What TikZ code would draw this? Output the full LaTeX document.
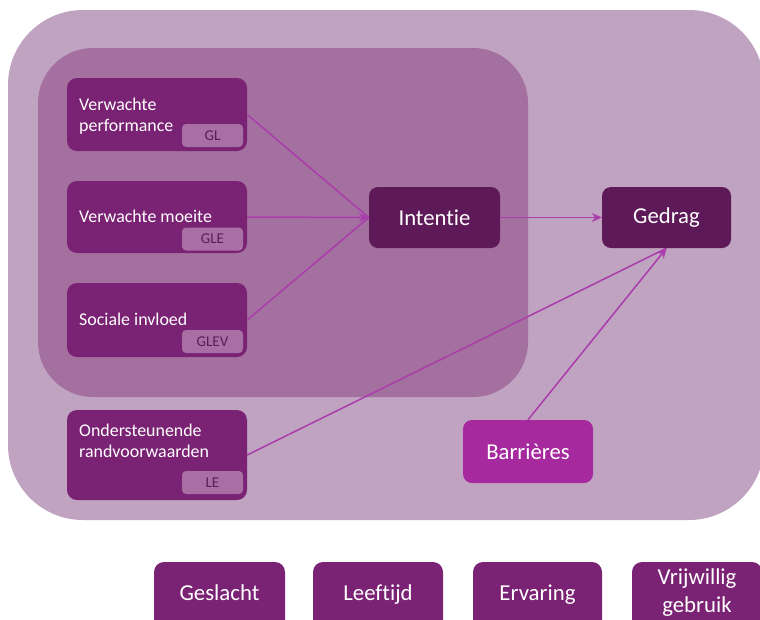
\documentclass[tikz,border=0pt]{standalone}
\usepackage{fontspec}
\setmainfont{Carlito}[Ligatures=NoCommon]
\usetikzlibrary{arrows.meta}
\definecolor{outerc}{HTML}{BFA3C1}
\definecolor{innerc}{HTML}{A4709F}
\definecolor{boxc}{HTML}{7A2273}
\definecolor{tagc}{HTML}{A86FA5}
\definecolor{tagtext}{HTML}{5A1E55}
\definecolor{darkc}{HTML}{5E1958}
\definecolor{barc}{HTML}{A62A9E}
\definecolor{arrc}{HTML}{AA3CAB}
\tikzset{
  factor/.style={draw=none, fill=boxc, rounded corners=10pt, inner sep=0pt},
  tagbox/.style={fill=tagc, rounded corners=4pt, inner sep=0pt, minimum width=61pt, minimum height=23pt, text=tagtext, font=\fontsize{15}{17}\selectfont},
  boxtext/.style={anchor=base west, inner sep=0pt, text=white, font=\fontsize{17.9}{21}\selectfont},
  keybox/.style={fill=darkc, rounded corners=9pt, inner sep=0pt, minimum width=130pt, minimum height=61pt, text=white, font=\fontsize{22.7}{26}\selectfont},
  modbox/.style={fill=boxc, rounded corners=10pt, inner sep=0pt, minimum width=131pt, minimum height=70pt},
  modtext/.style={text=white, inner sep=0pt, anchor=base, font=\fontsize{22.8}{26}\selectfont},
  conn/.style={draw=arrc, line width=1.5pt},
  tip/.style={-{Stealth[length=10pt,width=9pt]}}
}
\begin{document}
\begin{tikzpicture}[x=1pt,y=-1pt]
\clip (0,0) rectangle (760,619);
\fill[white] (0,0) rectangle (760,619);
% outer and inner areas
\fill[outerc, rounded corners=75pt] (8,10) rectangle (764,520);
\fill[innerc, rounded corners=55pt] (38,48) rectangle (528,397);
% factor boxes
\node[factor, minimum width=180pt, minimum height=73pt] (vp) at (157,114.5) {};
\node[factor, minimum width=180pt, minimum height=72pt] (vm) at (157,217) {};
\node[factor, minimum width=180pt, minimum height=74pt] (si) at (157,320) {};
\node[factor, minimum width=180pt, minimum height=90pt] (or) at (157,455) {};
\node[boxtext] (vpt1) at (79,110) {Verwachte};
\node[boxtext] (vpt2) at (79,131) {performance};
\node[boxtext] (vmt) at (79,222) {Verwachte moeite};
\node[boxtext] (sit) at (79,325) {Sociale invloed};
\node[boxtext] (ort1) at (79,436) {Ondersteunende};
\node[boxtext] (ort2) at (79,457) {randvoorwaarden};
% tags
\node[tagbox] (gl) at (212.5,135.5) {GL};
\node[tagbox] (gle) at (212.5,239) {GLE};
\node[tagbox] (glev) at (212.5,341.5) {GLEV};
\node[tagbox] (le) at (212.5,482.5) {LE};
% key boxes
\node[keybox, minimum width=131pt] (int) at (434.5,217.5) {Intentie};
\node[keybox, minimum width=129pt] (ged) at (666.5,217.5) {Gedrag};
\node[keybox, fill=barc, minimum width=130pt, minimum height=63pt] (bar) at (528,451.5) {Barrières};
% moderators
\node[modbox] (m1) at (219.5,597) {};
\node[modbox, minimum width=130pt] (m2) at (378,597) {};
\node[modbox, minimum width=129pt] (m3) at (537.5,597) {};
\node[modbox, minimum width=130pt] (m4) at (697,597) {};
\node[modtext] (m1t) at (219.5,600) {Geslacht};
\node[modtext] (m2t) at (378,600) {Leeftijd};
\node[modtext] (m3t) at (537.5,600) {Ervaring};
\node[modtext] (m4t1) at (697,584) {Vrijwillig};
\node[modtext] (m4t2) at (697,612) {gebruik};
% connectors
\draw[conn] (vp.east) -- (int.west);
\draw[conn] (si.east) -- (int.west);
\draw[conn, tip] (vm.east) -- (int.west);
\draw[conn, tip] (int.east) -- (ged.west);
\draw[conn] (or.east) -- (ged.south);
\draw[conn, tip] (bar.north) -- (ged.south);
\end{tikzpicture}
\end{document}
